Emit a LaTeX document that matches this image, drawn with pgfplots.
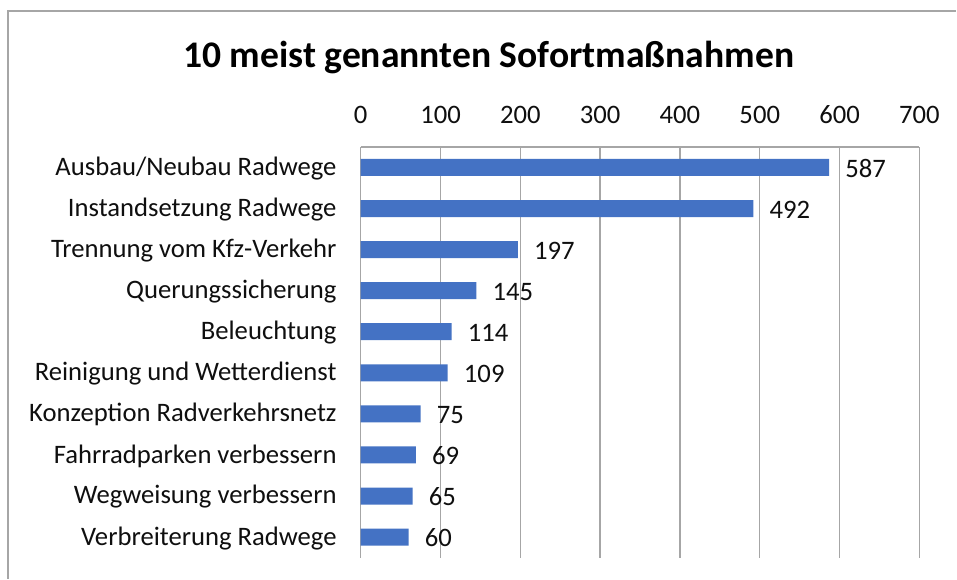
\documentclass[border=0pt]{standalone}
\usepackage{pgfplots}
\pgfplotsset{compat=1.18}
\usepackage{fontspec}
\setmainfont{Carlito}
\definecolor{barblue}{RGB}{68,114,196}
\definecolor{gridgray}{RGB}{166,166,166}
\definecolor{txt}{RGB}{15,15,15}
\begin{document}
\begin{tikzpicture}
\path[fill=white] (0pt,0pt) rectangle (717.75pt,-434.25pt);
\draw[gridgray, line width=1pt] (6pt,-434.25pt) -- (6pt,-8.25pt) -- (717.75pt,-8.25pt);
\node[font=\bfseries\fontsize{28.2}{30}\selectfont, text=black] at (366.75pt,-43.5pt) {10 meist genannten Sofortmaßnahmen};
\begin{axis}[
  at={(270.75pt,-418.5pt)}, anchor=south west,
  scale only axis, width=419.25pt, height=308.25pt,
  xmin=0, xmax=700, ymin=-0.5, ymax=9.5,
  axis x line=top, axis y line=left,
  axis line style={draw=gridgray, line width=1pt, -},
  xtick={0,100,...,700},
  ytick={0,...,9},
  yticklabels={Verbreiterung Radwege, Wegweisung verbessern, Fahrradparken verbessern, Konzeption Radverkehrsnetz, Reinigung und Wetterdienst, Beleuchtung, Querungssicherung, Trennung vom Kfz-Verkehr, Instandsetzung Radwege, Ausbau/Neubau Radwege},
  major tick length=0pt,
  xmajorgrids, grid style={draw=gridgray, line width=1pt},
  /pgf/number format/assume math mode=true,
  ticklabel style={font=\fontsize{20}{22}\selectfont, text=txt},
  xticklabel style={anchor=base, yshift=17.5pt},
  yticklabel style={anchor=east, inner sep=0pt, xshift=-18pt, yshift=-0.75pt},
  clip=false,
]
\addplot[xbar, bar width=12.75pt, fill=barblue, draw=none,
  nodes near coords,
  nodes near coords style={anchor=west, inner sep=0pt, xshift=12pt, yshift=-0.75pt, font=\fontsize{20}{22}\selectfont, text=txt}]
coordinates {(587,9) (492,8) (197,7) (145,6) (114,5) (109,4) (75,3) (69,2) (65,1) (60,0)};
\end{axis}
\end{tikzpicture}
\end{document}
